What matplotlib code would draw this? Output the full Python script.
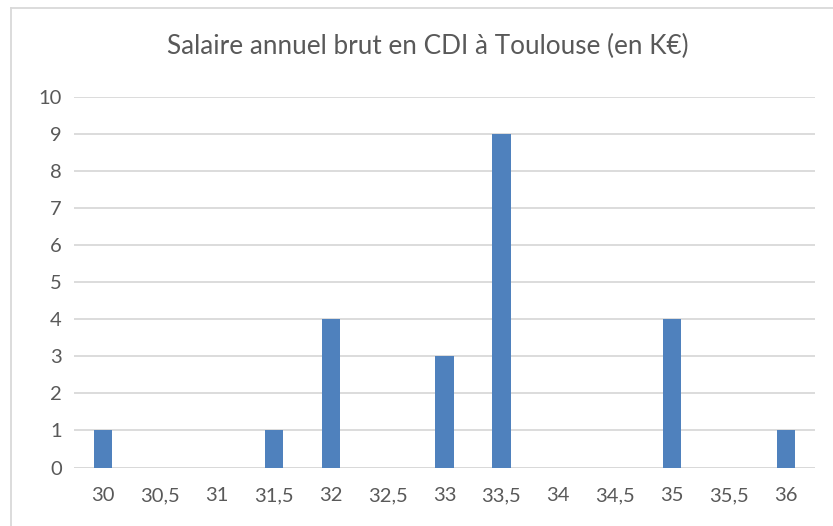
import matplotlib.pyplot as plt
from matplotlib.lines import Line2D

categories = ['30', '30,5', '31', '31,5', '32', '32,5', '33', '33,5', '34', '34,5', '35', '35,5', '36']
counts = [1, 0, 0, 1, 4, 0, 3, 9, 0, 0, 4, 0, 1]
yticks = list(range(0, 11))

plt.rcParams['font.family'] = ['Lato', 'DejaVu Sans']

fig = plt.figure(figsize=(8.33, 5.26), dpi=100)
ax = fig.add_axes([0.0894, 0.1112, 0.8884, 0.7044])

x = list(range(len(categories)))
ax.bar(x, counts, width=0.32, color='#4f81bd', zorder=3)

ax.set_xlim(-0.5, len(categories) - 0.5)
ax.set_ylim(0, 10)
ax.set_yticks(yticks)
ax.set_xticks(x)
ax.set_xticklabels(categories)
ax.yaxis.grid(True, color='#d9d9d9', linewidth=1.3, zorder=0)
ax.tick_params(axis='both', length=0, labelsize=14.5, colors='#595959')
ax.tick_params(axis='x', pad=14)
ax.tick_params(axis='y', pad=9)
for s in ax.spines.values():
    s.set_visible(False)
ax.axhline(0, color='#d9d9d9', linewidth=1.3, zorder=2)

fig.text(0.513, 0.912, 'Salaire annuel brut en CDI à Toulouse (en K€)',
         ha='center', va='center', fontsize=18.8, color='#595959')

# chart area border (only top and left visible in the crop)
fig.add_artist(Line2D([11 / 833, 1], [1 - 8 / 526, 1 - 8 / 526], color='#d9d9d9', lw=1.3,
                      transform=fig.transFigure))
fig.add_artist(Line2D([11 / 833, 11 / 833], [0, 1 - 8 / 526], color='#d9d9d9', lw=1.3,
                      transform=fig.transFigure))

fig.savefig('out.png', dpi=100)
